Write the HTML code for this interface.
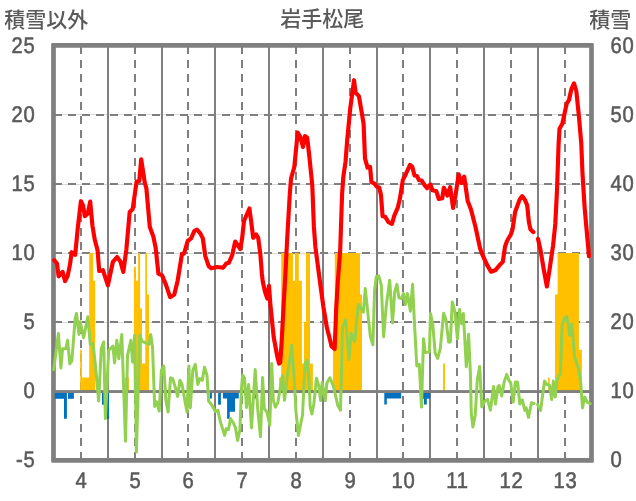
<!DOCTYPE html>
<html lang="ja"><head><meta charset="utf-8"><title>岩手松尾</title>
<style>html,body{margin:0;padding:0;background:#fff}body{width:636px;height:501px;overflow:hidden}svg{display:block}</style>
</head><body>
<svg width="636" height="501" viewBox="0 0 636 501">
<rect width="636" height="501" fill="#fff"/>
<path fill="#7f7f7f" fill-rule="evenodd" d="M52.35,43.05 H592.65 Q593.85,43.05 593.85,44.25 V461.45 Q593.85,462.65 592.65,462.65 H52.35 Q51.15,462.65 51.15,461.45 V44.25 Q51.15,43.05 52.35,43.05 Z M55.85,47.75 V457.95 H589.15 V47.75 Z"/>
<line x1="54" x2="591" y1="114.5" y2="114.5" stroke="#d9d9d9" stroke-width="1"/>
<line x1="54" x2="591" y1="184.5" y2="184.5" stroke="#d9d9d9" stroke-width="1"/>
<line x1="54" x2="591" y1="253.5" y2="253.5" stroke="#d9d9d9" stroke-width="1"/>
<line x1="54" x2="591" y1="322.5" y2="322.5" stroke="#d9d9d9" stroke-width="1"/>
<g shape-rendering="crispEdges">
<line x1="54" x2="591" y1="115" y2="115" stroke="#7f7f7f" stroke-width="2" stroke-dasharray="8 6"/>
<line x1="54" x2="591" y1="184" y2="184" stroke="#7f7f7f" stroke-width="2" stroke-dasharray="8 6"/>
<line x1="54" x2="591" y1="253" y2="253" stroke="#7f7f7f" stroke-width="2" stroke-dasharray="8 6"/>
<line x1="54" x2="591" y1="322" y2="322" stroke="#7f7f7f" stroke-width="2" stroke-dasharray="8 6"/>
<line x1="108" x2="108" y1="46" y2="460" stroke="#7f7f7f" stroke-width="2"/>
<line x1="162" x2="162" y1="46" y2="460" stroke="#7f7f7f" stroke-width="2"/>
<line x1="215" x2="215" y1="46" y2="460" stroke="#7f7f7f" stroke-width="2"/>
<line x1="269" x2="269" y1="46" y2="460" stroke="#7f7f7f" stroke-width="2"/>
<line x1="323" x2="323" y1="46" y2="460" stroke="#7f7f7f" stroke-width="2"/>
<line x1="377" x2="377" y1="46" y2="460" stroke="#7f7f7f" stroke-width="2"/>
<line x1="430" x2="430" y1="46" y2="460" stroke="#7f7f7f" stroke-width="2"/>
<line x1="484" x2="484" y1="46" y2="460" stroke="#7f7f7f" stroke-width="2"/>
<line x1="538" x2="538" y1="46" y2="460" stroke="#7f7f7f" stroke-width="2"/>
<line x1="81" x2="81" y1="46" y2="460" stroke="#7f7f7f" stroke-width="2" stroke-dasharray="8 6"/>
<line x1="135" x2="135" y1="46" y2="460" stroke="#7f7f7f" stroke-width="2" stroke-dasharray="8 6"/>
<line x1="188" x2="188" y1="46" y2="460" stroke="#7f7f7f" stroke-width="2" stroke-dasharray="8 6"/>
<line x1="242" x2="242" y1="46" y2="460" stroke="#7f7f7f" stroke-width="2" stroke-dasharray="8 6"/>
<line x1="296" x2="296" y1="46" y2="460" stroke="#7f7f7f" stroke-width="2" stroke-dasharray="8 6"/>
<line x1="350" x2="350" y1="46" y2="460" stroke="#7f7f7f" stroke-width="2" stroke-dasharray="8 6"/>
<line x1="403" x2="403" y1="46" y2="460" stroke="#7f7f7f" stroke-width="2" stroke-dasharray="8 6"/>
<line x1="457" x2="457" y1="46" y2="460" stroke="#7f7f7f" stroke-width="2" stroke-dasharray="8 6"/>
<line x1="511" x2="511" y1="46" y2="460" stroke="#7f7f7f" stroke-width="2" stroke-dasharray="8 6"/>
<line x1="565" x2="565" y1="46" y2="460" stroke="#7f7f7f" stroke-width="2" stroke-dasharray="8 6"/>
</g>
<path d="M80.2,391.5 L80.2,349.8 L82.0,349.8 L82.0,377.5 L89.2,377.5 L89.2,253.0 L93.2,253.0 L93.2,280.7 L95.2,280.7 L95.2,391.5 Z" fill="#ffc000"/>
<path d="M125.0,391.5 L125.0,377.5 L129.0,377.5 L129.0,391.5 Z" fill="#ffc000"/>
<path d="M133.9,391.5 L133.9,266.8 L135.9,266.8 L135.9,280.7 L138.1,280.7 L138.1,253.0 L140.1,253.0 L140.1,308.3 L142.0,308.3 L142.0,363.6 L145.3,363.6 L145.3,253.0 L147.0,253.0 L147.0,294.5 L149.0,294.5 L149.0,391.5 Z" fill="#ffc000"/>
<path d="M243.5,391.5 L243.5,377.5 L246.0,377.5 L246.0,391.5 Z" fill="#ffc000"/>
<path d="M279.1,391.5 L279.1,377.5 L281.2,377.5 L281.2,253.0 L293.0,253.0 L293.0,280.7 L295.0,280.7 L295.0,253.0 L298.8,253.0 L298.8,280.7 L301.9,280.7 L301.9,363.6 L304.0,363.6 L304.0,322.1 L306.0,322.1 L306.0,253.0 L310.0,253.0 L310.0,363.6 L312.9,363.6 L312.9,391.5 Z" fill="#ffc000"/>
<path d="M333.0,391.5 L333.0,349.8 L334.8,349.8 L334.8,253.0 L360.0,253.0 L360.0,294.5 L362.0,294.5 L362.0,391.5 Z" fill="#ffc000"/>
<path d="M443.1,391.5 L443.1,363.6 L445.0,363.6 L445.0,391.5 Z" fill="#ffc000"/>
<path d="M548.1,391.5 L548.1,377.5 L549.8,377.5 L549.8,391.5 Z" fill="#ffc000"/>
<path d="M555.0,391.5 L555.0,294.5 L557.6,294.5 L557.6,253.0 L578.9,253.0 L578.9,349.8 L581.9,349.8 L581.9,391.5 Z" fill="#ffc000"/>
<path d="M54.8,391.5 L54.8,398.8 L64.0,398.8 L64.0,418.7 L66.9,418.7 L66.9,391.5 Z" fill="#0070c0"/>
<path d="M68.0,391.5 L68.0,398.8 L73.9,398.8 L73.9,391.5 Z" fill="#0070c0"/>
<path d="M102.0,391.5 L102.0,404.8 L104.0,404.8 L104.0,391.5 Z" fill="#0070c0"/>
<path d="M107.0,391.5 L107.0,418.9 L109.0,418.9 L109.0,391.5 Z" fill="#0070c0"/>
<path d="M209.8,391.5 L209.8,398.6 L211.9,398.6 L211.9,391.5 Z" fill="#0070c0"/>
<path d="M218.1,391.5 L218.1,404.7 L220.9,404.7 L220.9,391.5 Z" fill="#0070c0"/>
<path d="M222.9,391.5 L222.9,398.6 L227.1,398.6 L227.1,418.7 L229.7,418.7 L229.7,411.8 L235.0,411.8 L235.0,398.6 L238.8,398.6 L238.8,391.5 Z" fill="#0070c0"/>
<path d="M254.0,391.5 L254.0,398.5 L256.0,398.5 L256.0,391.5 Z" fill="#0070c0"/>
<path d="M384.3,391.5 L384.3,404.4 L386.8,404.4 L386.8,398.5 L401.2,398.5 L401.2,391.5 Z" fill="#0070c0"/>
<path d="M423.0,391.5 L423.0,398.7 L424.0,398.7 L424.0,404.6 L426.8,404.6 L426.8,398.7 L430.2,398.7 L430.2,391.5 Z" fill="#0070c0"/>
<rect x="54" y="390.1" width="537" height="2.9" fill="#7f7f7f"/>
<polyline points="53.7,369.6 58.4,333.6 60.9,368.0 62.6,348.7 65.9,348.7 67.6,340.3 69.8,363.8 71.8,361.2 75.2,318.5 76.5,313.4 78.9,334.4 80.2,321.8 83.6,337.8 87.8,316.8 90.3,344.5 92.8,343.3 95.3,363.8 98.7,401.0 101.2,348.7 103.7,342.0 105.4,418.6 108.7,350.3 112.9,346.1 114.6,362.9 116.8,340.3 118.8,358.7 121.8,334.4 125.5,441.2 127.5,355.4 130.9,340.3 132.6,362.1 134.7,335.2 136.4,452.1 139.8,335.2 141.9,341.1 149.0,344.5 150.7,334.4 152.5,346.8 154.7,406.5 156.7,401.8 159.2,411.0 161.4,370.3 163.8,366.1 165.9,400.4 168.1,412.0 170.5,377.8 172.6,378.6 175.2,387.0 177.7,396.5 179.9,380.3 181.9,383.7 184.4,398.0 187.0,412.0 188.9,366.1 190.3,408.0 192.8,370.3 195.3,364.4 197.8,384.5 200.0,378.6 202.3,380.3 204.5,367.2 207.0,375.3 208.7,401.3 212.1,405.5 215.4,411.5 217.9,410.2 220.4,421.9 224.6,435.4 226.3,428.6 228.5,429.5 230.5,418.6 233.2,422.5 235.5,427.8 237.6,440.4 239.9,430.0 241.4,390.0 242.6,375.0 244.5,378.0 246.5,407.5 248.6,384.4 251.5,427.9 255.2,369.5 257.8,410.0 260.5,436.8 262.6,377.6 264.3,408.7 266.9,411.9 269.8,425.3 271.7,363.5 273.3,400.4 275.3,407.2 277.8,402.7 280.3,387.5 282.5,375.6 284.5,400.3 287.3,376.0 291.8,345.1 294.6,385.0 296.0,411.9 298.4,435.4 302.5,415.3 304.0,385.0 305.3,363.0 307.2,360.2 309.0,380.0 310.2,406.9 311.9,413.9 313.9,403.5 316.5,378.2 319.0,387.0 320.6,400.6 322.2,382.4 325.3,400.6 326.8,383.4 329.8,377.7 333.5,386.5 337.7,405.2 340.5,410.3 341.9,353.5 342.4,327.5 345.7,319.8 347.2,338.0 348.9,359.4 351.2,333.5 354.7,341.8 356.5,323.0 358.3,304.3 361.2,308.7 363.3,312.1 365.3,288.6 367.9,313.7 370.4,336.8 372.9,344.8 374.6,290.3 376.3,276.8 378.8,276.0 381.3,285.2 383.6,336.8 386.3,305.4 389.7,280.2 392.5,323.0 394.7,291.9 396.9,284.4 398.9,297.8 401.4,298.6 403.5,293.6 405.4,304.4 407.5,293.6 410.4,311.2 412.6,284.3 414.3,320.3 416.8,366.0 419.3,364.3 421.5,407.1 423.5,338.8 425.2,352.6 429.4,351.7 430.5,313.6 432.7,323.7 435.2,353.4 437.7,358.4 440.3,348.4 443.6,313.3 446.1,320.3 448.6,342.1 450.3,342.1 452.3,301.9 455.0,311.9 457.4,338.8 459.5,309.4 461.7,323.7 463.4,313.6 466.3,366.8 468.6,334.2 470.4,373.5 471.3,413.5 472.9,427.0 475.2,415.2 477.3,380.0 479.7,366.5 481.8,407.0 484.5,401.5 487.5,399.4 490.4,410.3 493.6,386.4 495.5,404.0 498.0,386.5 499.3,385.6 501.7,396.0 504.2,381.9 506.7,374.4 509.2,381.1 510.7,382.6 513.2,402.0 515.4,382.0 517.6,382.2 519.8,404.0 522.3,399.8 524.8,410.3 526.2,407.8 528.5,417.4 531.5,402.8 534.0,403.5" fill="none" stroke="#92d050" stroke-width="3" stroke-linejoin="round" stroke-linecap="round"/>
<polyline points="537.5,404.5 540.6,410.4 542.8,393.7 544.5,381.1 546.6,384.4 549.5,385.3 551.7,399.5 553.3,381.1 555.3,397.0 557.0,380.3 558.7,376.1 560.4,374.4 562.1,325.3 564.6,317.7 566.8,316.6 568.4,325.3 569.6,335.4 571.8,323.9 573.8,347.1 574.6,356.8 578.8,370.2 580.8,383.6 582.5,407.9 584.7,397.0 587.2,402.1 590.2,403.7" fill="none" stroke="#92d050" stroke-width="3" stroke-linejoin="round" stroke-linecap="round"/>
<polyline points="54.3,260.2 57.0,263.5 58.6,276.3 62.6,271.9 65.1,281.1 67.6,276.1 70.1,263.9 71.6,252.2 75.2,254.8 77.7,228.7 80.9,201.2 83.2,206.0 84.8,216.2 87.8,213.4 90.2,201.6 92.4,225.3 94.6,239.0 97.6,250.5 99.2,271.0 102.9,270.2 107.9,285.3 112.9,261.8 117.1,257.0 120.5,261.8 123.3,271.9 126.3,250.0 129.7,211.9 132.7,209.0 136.6,181.5 139.3,181.0 141.2,159.3 144.7,182.3 146.4,188.5 149.8,227.0 153.4,236.8 155.7,248.0 158.4,273.7 162.1,275.4 165.9,284.6 170.1,297.2 174.3,294.6 177.7,280.4 181.9,254.4 184.0,253.5 187.7,241.0 191.1,238.4 194.4,230.9 197.0,229.7 200.3,233.4 202.8,238.4 205.3,256.1 208.7,266.1 211.2,268.3 217.1,267.0 223.0,267.8 226.3,263.6 228.8,262.8 232.2,255.2 235.2,241.5 240.3,249.0 242.1,238.6 244.0,221.0 249.4,208.5 251.0,220.2 253.2,237.8 256.1,234.4 258.2,237.8 260.3,253.7 261.9,273.9 262.8,281.7 265.0,291.8 267.3,298.5 269.0,285.9 270.3,303.6 273.7,337.1 277.2,356.0 279.0,363.6 280.2,362.5 281.6,343.0 283.7,303.6 285.4,273.9 287.1,240.3 289.8,193.9 291.0,178.8 294.3,167.0 297.7,132.6 300.2,136.8 303.0,146.9 304.9,136.0 307.2,137.7 309.4,157.0 312.3,185.5 313.9,226.9 315.4,247.0 319.2,276.0 320.9,288.6 323.4,307.0 326.8,327.2 329.3,337.0 331.6,346.5 334.6,349.0 335.6,325.0 336.2,308.7 337.7,283.5 340.2,250.0 342.1,193.9 343.3,177.1 345.5,162.0 347.2,140.2 350.2,108.7 352.7,90.3 354.0,80.2 355.6,92.8 358.9,96.1 361.9,113.7 363.6,123.8 365.0,158.4 367.5,167.6 370.1,166.8 371.4,181.9 374.3,183.5 376.8,186.6 379.3,187.7 381.0,195.3 382.6,216.3 385.2,216.8 388.5,222.1 391.9,223.8 394.4,215.4 397.7,207.9 399.9,198.6 402.8,180.2 406.1,173.5 410.0,164.8 412.3,166.8 414.5,175.5 417.0,176.0 419.0,180.2 421.7,180.5 424.6,185.2 427.1,188.2 430.4,184.4 432.5,190.3 436.3,191.1 438.8,199.0 442.2,198.3 443.9,187.7 447.3,195.5 450.2,187.2 453.1,207.9 455.5,195.3 458.7,174.3 461.5,183.0 464.2,176.6 467.7,201.1 471.0,209.5 475.5,227.0 480.1,248.5 482.6,255.2 486.8,264.4 491.0,271.7 495.2,270.3 499.4,265.3 502.8,261.9 505.0,246.8 507.0,241.0 510.8,234.5 512.5,229.6 515.1,212.0 519.7,199.4 522.2,196.1 524.7,199.4 527.2,205.3 528.9,222.1 530.5,229.5 533.4,232.1" fill="none" stroke="#ff0000" stroke-width="4.15" stroke-linejoin="round" stroke-linecap="round"/>
<polyline points="538.0,238.8 540.5,250.2 543.9,270.3 546.9,286.5 549.7,268.6 553.1,245.2 555.3,223.9 557.0,190.3 558.6,143.9 559.5,128.8 562.3,123.7 566.7,103.6 569.0,100.0 571.4,89.0 574.0,83.3 576.3,91.0 578.8,115.3 581.3,143.9 582.5,173.5 584.6,207.1 586.2,225.2 589.0,256.2" fill="none" stroke="#ff0000" stroke-width="4.15" stroke-linejoin="round" stroke-linecap="round"/>
<g font-family="'Liberation Sans', 'Noto Sans CJK JP', sans-serif" font-size="21" font-weight="500" fill="#595959">
<text x="4.2" y="27.4">積雪以外</text>
<text x="322.2" y="26" text-anchor="middle">岩手松尾</text>
<text x="631.3" y="27.4" text-anchor="end">積雪</text>
</g>
<g font-family="'Liberation Sans', 'Noto Sans CJK JP', sans-serif" font-size="22.6" fill="#595959" stroke="#595959" stroke-width="0.55" text-rendering="geometricPrecision" letter-spacing="0.8">
<text transform="translate(35.5,52.8) scale(0.895,1)" text-anchor="end">25</text>
<text transform="translate(35.5,121.8) scale(0.895,1)" text-anchor="end">20</text>
<text transform="translate(35.5,190.8) scale(0.895,1)" text-anchor="end">15</text>
<text transform="translate(35.5,259.8) scale(0.895,1)" text-anchor="end">10</text>
<text transform="translate(35.5,328.8) scale(0.895,1)" text-anchor="end">5</text>
<text transform="translate(35.5,397.8) scale(0.895,1)" text-anchor="end">0</text>
<text transform="translate(35.5,466.8) scale(0.895,1)" text-anchor="end">-5</text>
<text transform="translate(610.5,52.8) scale(0.895,1)" text-anchor="start">60</text>
<text transform="translate(610.5,121.8) scale(0.895,1)" text-anchor="start">50</text>
<text transform="translate(610.5,190.8) scale(0.895,1)" text-anchor="start">40</text>
<text transform="translate(610.5,259.8) scale(0.895,1)" text-anchor="start">30</text>
<text transform="translate(610.5,328.8) scale(0.895,1)" text-anchor="start">20</text>
<text transform="translate(610.5,397.8) scale(0.895,1)" text-anchor="start">10</text>
<text transform="translate(610.5,466.8) scale(0.895,1)" text-anchor="start">0</text>
<text transform="translate(81.5,487.7) scale(0.895,1)" text-anchor="middle">4</text>
<text transform="translate(135.5,487.7) scale(0.895,1)" text-anchor="middle">5</text>
<text transform="translate(188.5,487.7) scale(0.895,1)" text-anchor="middle">6</text>
<text transform="translate(242.5,487.7) scale(0.895,1)" text-anchor="middle">7</text>
<text transform="translate(296.5,487.7) scale(0.895,1)" text-anchor="middle">8</text>
<text transform="translate(350.5,487.7) scale(0.895,1)" text-anchor="middle">9</text>
<text transform="translate(403.5,487.7) scale(0.895,1)" text-anchor="middle">10</text>
<text transform="translate(457.5,487.7) scale(0.895,1)" text-anchor="middle">11</text>
<text transform="translate(511.5,487.7) scale(0.895,1)" text-anchor="middle">12</text>
<text transform="translate(565.5,487.7) scale(0.895,1)" text-anchor="middle">13</text>
</g>
</svg>
</body></html>
